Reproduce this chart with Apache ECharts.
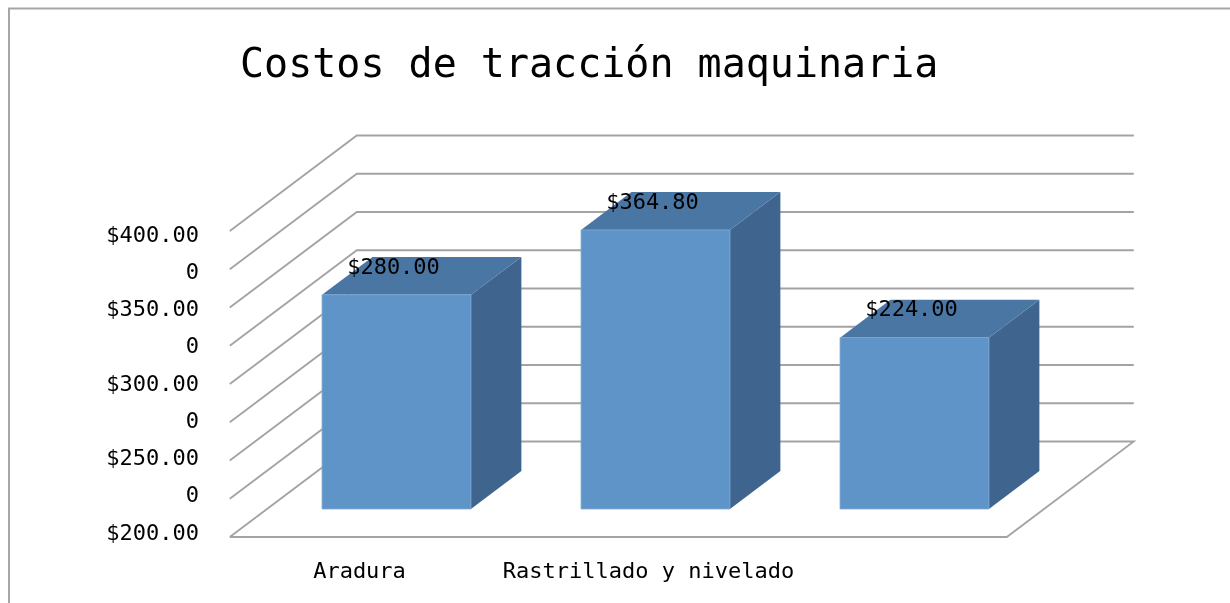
<!DOCTYPE html>
<html><head><meta charset="utf-8">
<script src="https://cdn.jsdelivr.net/npm/echarts@6/dist/echarts.min.js"></script>
<style>html,body{margin:0;padding:0;background:#fff}#c{width:1230px;height:603px}</style>
</head><body><div id="c"></div>
<script>
// ---- data ----
const titleText = 'Costos de tracción maquinaria';
const categories = ['Aradura', 'Rastrillado y nivelado', ''];
const costs = [280.00, 364.80, 224.00];
const yTickLabels = ['$200.00', '0', '$250.00', '0', '$300.00', '0', '$350.00', '0', '$400.00'];
const yMin = 0, yMax = 400, yInterval = 50;

// ---- style / layout ----
const FONT = "'DejaVu Sans Mono', 'Liberation Mono', monospace";
const DEPTH = [127, -95.5];          // floor depth vector: front edge -> back wall
const BAR_FRONT = 0.293, BAR_BACK = 0.69; // bar depth as fraction of floor depth
const FRONT = '#5F94C8', TOP = '#4A76A4', SIDE = '#3F658E';
const GRID_COLOR = '#A3A3A3';

const tickValues = yTickLabels.map((_, i) => yMin + i * yInterval);

const chart = echarts.init(document.getElementById('c'), null, {renderer: 'canvas'});

function gridRender(params, api) {
  const cs = params.coordSys;
  const v = api.value(1);
  const y = api.coord([0, v])[1];
  const fx = -DEPTH[0] * BAR_FRONT, fy = -DEPTH[1] * BAR_FRONT;
  const bx = DEPTH[0] * (1 - BAR_FRONT), by = DEPTH[1] * (1 - BAR_FRONT);
  const left = cs.x, right = cs.x + cs.width;
  const pts = [[left + fx, y + fy], [left + bx, y + by], [right + bx, y + by]];
  if (v === yMin) {
    pts.push([right + fx, y + fy]);
    pts.push([left + fx, y + fy]);
  }
  return {
    type: 'polyline',
    shape: {points: pts},
    style: {stroke: GRID_COLOR, lineWidth: 1.8, fill: null}
  };
}

function barRender(params, api) {
  const i = api.value(0), v = api.value(1);
  const top = api.coord([i, v]);
  const base = api.coord([i, 0]);
  const bw = api.size([1, 0])[0] * 0.575;
  const x0 = top[0] - bw / 2, x1 = top[0] + bw / 2, yt = top[1], yb = base[1];
  const d = BAR_BACK - BAR_FRONT;
  const dx = DEPTH[0] * d, dy = DEPTH[1] * d;
  return {
    type: 'group',
    children: [
      {type: 'polygon', shape: {points: [[x1, yt], [x1 + dx, yt + dy], [x1 + dx, yb + dy], [x1, yb]]}, style: {fill: SIDE}},
      {type: 'polygon', shape: {points: [[x0, yt], [x1, yt], [x1 + dx, yt + dy], [x0 + dx, yt + dy]]}, style: {fill: TOP}},
      {type: 'rect', shape: {x: x0, y: yt, width: bw, height: yb - yt}, style: {fill: FRONT, stroke: '#7FAAD6', lineWidth: 0.8}},
      {type: 'text', x: top[0] - 3, y: yt - 27,
        style: {text: '$' + v.toFixed(2), fontSize: 22, fontFamily: FONT, fill: '#000', align: 'center', verticalAlign: 'middle'}}
    ]
  };
}

const option = {
  backgroundColor: '#fff',
  animation: false,
  title: {
    text: titleText, left: 240, top: 47, padding: 0,
    textStyle: {fontFamily: FONT, fontSize: 40, fontWeight: 'normal', color: '#000'}
  },
  graphic: [{
    type: 'polyline', shape: {points: [[9, 603], [9, 8.5], [1230, 8.5]]},
    style: {stroke: '#A6A6A6', lineWidth: 2, fill: null}, z: 0
  }],
  grid: [
    {left: 267, top: 203, width: 777, height: 306},
    {left: 230, top: 236, width: 777, height: 298},
    {left: 230, top: 231, width: 777, height: 306}
  ],
  xAxis: [
    {gridIndex: 0, type: 'category', data: categories, show: false},
    {gridIndex: 1, type: 'value', show: false},
    {gridIndex: 2, type: 'category',
      data: categories.map((c, i) => i === 1 ? {value: c, textStyle: {padding: [0, 0, 0, 60]}} : c),
      axisLine: {show: false}, axisTick: {show: false}, splitLine: {show: false},
      axisLabel: {margin: 24, fontSize: 22, fontFamily: FONT, color: '#000', interval: 0}}
  ],
  yAxis: [
    {gridIndex: 0, type: 'value', min: yMin, max: yMax, interval: yInterval, show: false},
    {gridIndex: 1, type: 'value', min: yMin, max: yMax, interval: yInterval,
      axisLine: {show: false}, axisTick: {show: false}, splitLine: {show: false},
      axisLabel: {margin: 31, fontSize: 22, fontFamily: FONT, color: '#000',
        formatter: (val) => yTickLabels[Math.round((val - yMin) / yInterval)]}},
    {gridIndex: 2, type: 'value', min: yMin, max: yMax, interval: yInterval, show: false}
  ],
  series: [
    {type: 'custom', xAxisIndex: 0, yAxisIndex: 0, clip: false, z: 1,
      data: tickValues.map(v => [0, v]), renderItem: gridRender, silent: true},
    {type: 'custom', xAxisIndex: 0, yAxisIndex: 0, clip: false, z: 2,
      data: costs.map((v, i) => [i, v]), renderItem: barRender}
  ]
};
chart.setOption(option);
</script>
</body></html>
